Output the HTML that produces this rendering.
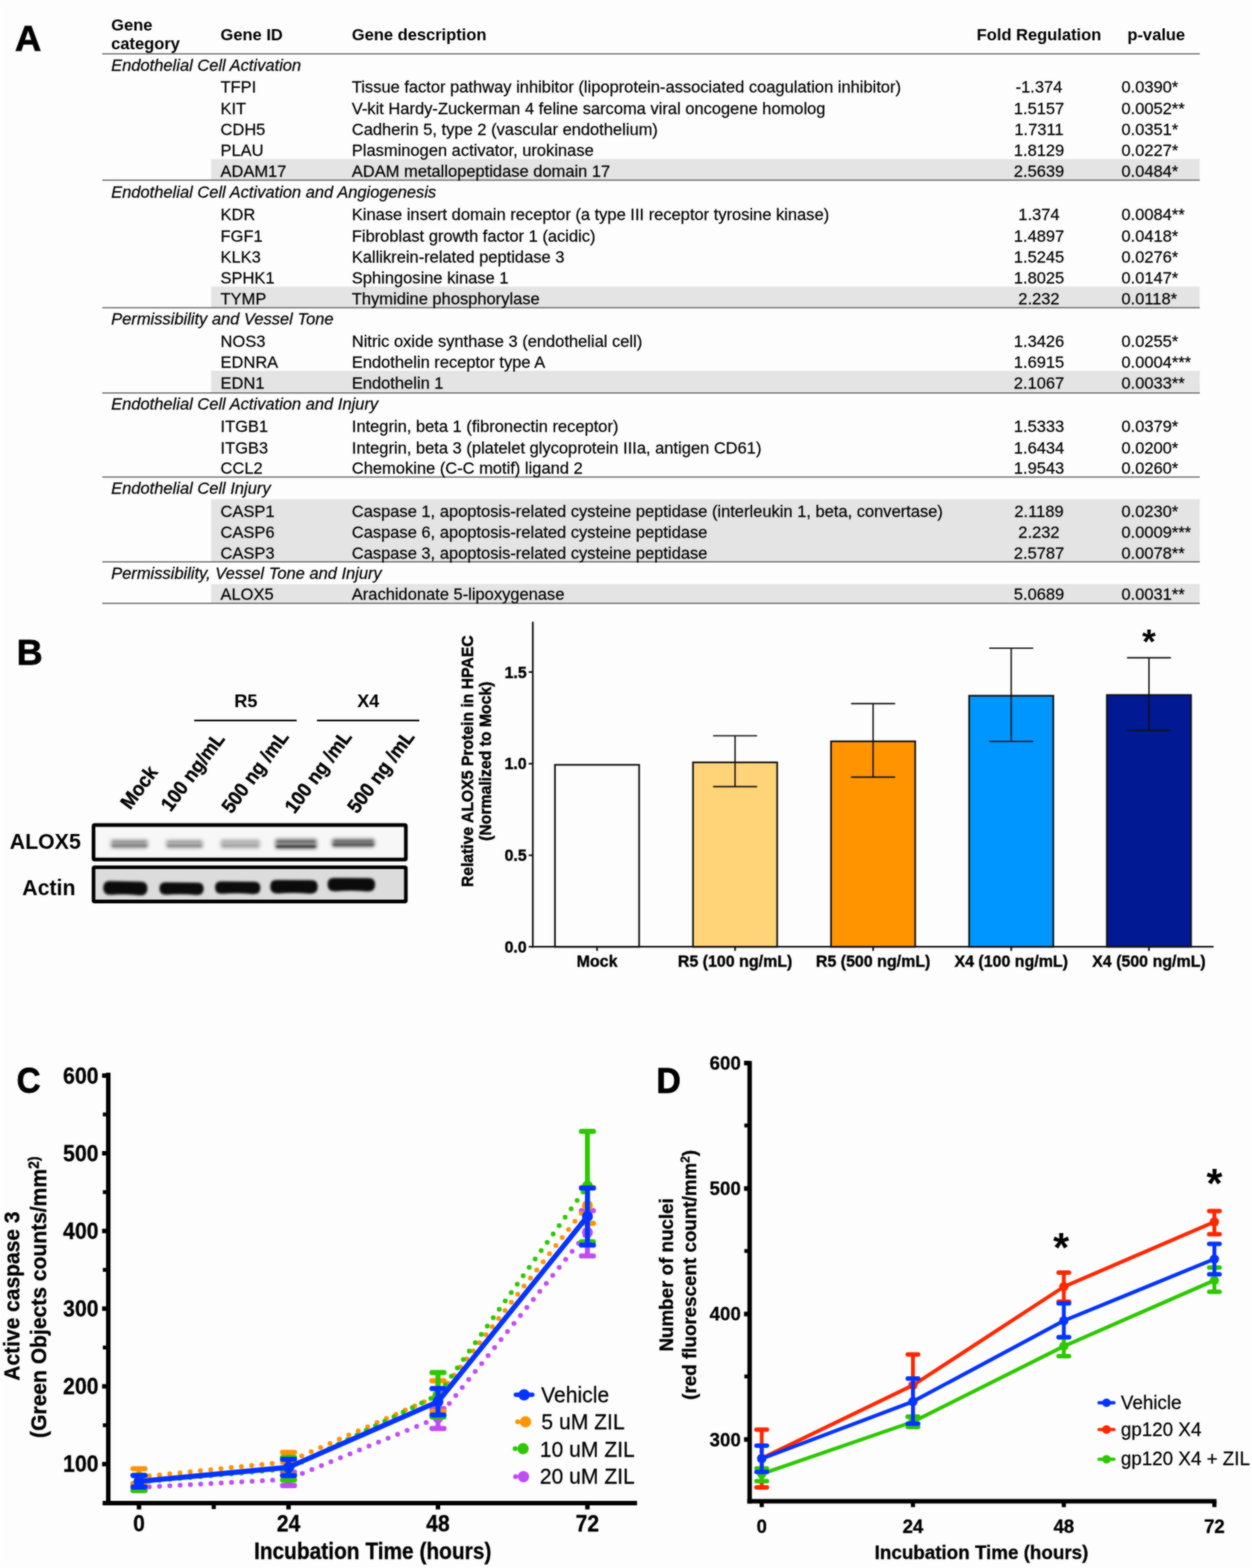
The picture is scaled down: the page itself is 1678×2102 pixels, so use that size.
<!DOCTYPE html>
<html lang="en"><head><meta charset="utf-8"><title>Figure</title>
<style>
html,body{margin:0;padding:0;background:#fdfdfd;}
body{width:1678px;height:2102px;overflow:hidden;}
svg{display:block;font-family:"Liberation Sans",sans-serif;}
</style></head><body>
<svg width="1678" height="2102" viewBox="0 0 1678 2102">
<defs>
<filter id="b1" color-interpolation-filters="sRGB" x="-20%" y="-80%" width="140%" height="260%"><feGaussianBlur stdDeviation="2.6 1.9"/></filter>
<filter id="b2" color-interpolation-filters="sRGB" x="-20%" y="-80%" width="140%" height="260%"><feGaussianBlur stdDeviation="1.7 1.5"/></filter>
<filter id="b3" color-interpolation-filters="sRGB" x="-20%" y="-150%" width="140%" height="400%"><feGaussianBlur stdDeviation="1.6 0.9"/></filter>
<filter id="soft" color-interpolation-filters="sRGB" x="0" y="0" width="100%" height="100%"><feGaussianBlur in="SourceGraphic" stdDeviation="0.85" result="b"/><feComposite in="b" in2="SourceGraphic" operator="arithmetic" k1="0" k2="0.6" k3="0.4" k4="0"/></filter>
</defs>
<g filter="url(#soft)">
<rect width="1678" height="2102" fill="#fdfdfd"/>

<g id="panelA" stroke="#000" stroke-width="0.28">
<rect x="283" y="213.2" width="1325" height="28.3" fill="#e4e4e4" stroke="none"/>
<rect x="283" y="384.2" width="1325" height="28.3" fill="#e4e4e4" stroke="none"/>
<rect x="283" y="497" width="1325" height="29.8" fill="#e4e4e4" stroke="none"/>
<rect x="283" y="669.2" width="1325" height="84.6" fill="#e4e4e4" stroke="none"/>
<rect x="283" y="783" width="1325" height="26" fill="#e4e4e4" stroke="none"/>
<line x1="137" y1="72.3" x2="1608" y2="72.3" stroke="#5a5a5a" stroke-width="1.5"/>
<line x1="137" y1="241.6" x2="1608" y2="241.6" stroke="#5a5a5a" stroke-width="1.5"/>
<line x1="137" y1="412.5" x2="1608" y2="412.5" stroke="#5a5a5a" stroke-width="1.5"/>
<line x1="137" y1="526.8" x2="1608" y2="526.8" stroke="#5a5a5a" stroke-width="1.5"/>
<line x1="137" y1="639.5" x2="1608" y2="639.5" stroke="#5a5a5a" stroke-width="1.5"/>
<line x1="137" y1="753.3" x2="1608" y2="753.3" stroke="#5a5a5a" stroke-width="1.5"/>
<line x1="137" y1="808.7" x2="1608" y2="808.7" stroke="#5a5a5a" stroke-width="1.5"/>
<text x="20" y="67.6" font-size="49" font-weight="bold" stroke="#000" stroke-width="0.9">A</text>
<text x="149" y="41.4" font-size="22.1" font-weight="bold" stroke="none">Gene</text>
<text x="149" y="66" font-size="22.1" font-weight="bold" stroke="none">category</text>
<text x="295.5" y="53.8" font-size="22.1" font-weight="bold" stroke="none">Gene ID</text>
<text x="471.5" y="53.8" font-size="22.1" font-weight="bold" stroke="none">Gene description</text>
<text x="1309" y="53.8" font-size="22.1" font-weight="bold" stroke="none">Fold Regulation</text>
<text x="1511" y="53.8" font-size="22.1" font-weight="bold" stroke="none">p-value</text>
<text x="149" y="95.3" font-size="22.1" font-style="italic">Endothelial Cell Activation</text>
<text x="295.5" y="124.4" font-size="22.1">TFPI</text>
<text x="471.5" y="124.4" font-size="22.1">Tissue factor pathway inhibitor (lipoprotein-associated coagulation inhibitor)</text>
<text x="1392.5" y="124.4" font-size="22.1" text-anchor="middle">-1.374</text>
<text x="1503" y="124.4" font-size="22.1">0.0390*</text>
<text x="295.5" y="152.6" font-size="22.1">KIT</text>
<text x="471.5" y="152.6" font-size="22.1">V-kit Hardy-Zuckerman 4 feline sarcoma viral oncogene homolog</text>
<text x="1392.5" y="152.6" font-size="22.1" text-anchor="middle">1.5157</text>
<text x="1503" y="152.6" font-size="22.1">0.0052**</text>
<text x="295.5" y="180.6" font-size="22.1">CDH5</text>
<text x="471.5" y="180.6" font-size="22.1">Cadherin 5, type 2 (vascular endothelium)</text>
<text x="1392.5" y="180.6" font-size="22.1" text-anchor="middle">1.7311</text>
<text x="1503" y="180.6" font-size="22.1">0.0351*</text>
<text x="295.5" y="208.7" font-size="22.1">PLAU</text>
<text x="471.5" y="208.7" font-size="22.1">Plasminogen activator, urokinase</text>
<text x="1392.5" y="208.7" font-size="22.1" text-anchor="middle">1.8129</text>
<text x="1503" y="208.7" font-size="22.1">0.0227*</text>
<text x="295.5" y="236.8" font-size="22.1">ADAM17</text>
<text x="471.5" y="236.8" font-size="22.1">ADAM metallopeptidase domain 17</text>
<text x="1392.5" y="236.8" font-size="22.1" text-anchor="middle">2.5639</text>
<text x="1503" y="236.8" font-size="22.1">0.0484*</text>
<text x="149" y="264.7" font-size="22.1" font-style="italic">Endothelial Cell Activation and Angiogenesis</text>
<text x="295.5" y="295.4" font-size="22.1">KDR</text>
<text x="471.5" y="295.4" font-size="22.1">Kinase insert domain receptor (a type III receptor tyrosine kinase)</text>
<text x="1392.5" y="295.4" font-size="22.1" text-anchor="middle">1.374</text>
<text x="1503" y="295.4" font-size="22.1">0.0084**</text>
<text x="295.5" y="323.6" font-size="22.1">FGF1</text>
<text x="471.5" y="323.6" font-size="22.1">Fibroblast growth factor 1 (acidic)</text>
<text x="1392.5" y="323.6" font-size="22.1" text-anchor="middle">1.4897</text>
<text x="1503" y="323.6" font-size="22.1">0.0418*</text>
<text x="295.5" y="351.7" font-size="22.1">KLK3</text>
<text x="471.5" y="351.7" font-size="22.1">Kallikrein-related peptidase 3</text>
<text x="1392.5" y="351.7" font-size="22.1" text-anchor="middle">1.5245</text>
<text x="1503" y="351.7" font-size="22.1">0.0276*</text>
<text x="295.5" y="379.7" font-size="22.1">SPHK1</text>
<text x="471.5" y="379.7" font-size="22.1">Sphingosine kinase 1</text>
<text x="1392.5" y="379.7" font-size="22.1" text-anchor="middle">1.8025</text>
<text x="1503" y="379.7" font-size="22.1">0.0147*</text>
<text x="295.5" y="407.8" font-size="22.1">TYMP</text>
<text x="471.5" y="407.8" font-size="22.1">Thymidine phosphorylase</text>
<text x="1392.5" y="407.8" font-size="22.1" text-anchor="middle">2.232</text>
<text x="1503" y="407.8" font-size="22.1">0.0118*</text>
<text x="149" y="435.2" font-size="22.1" font-style="italic">Permissibility and Vessel Tone</text>
<text x="295.5" y="464.5" font-size="22.1">NOS3</text>
<text x="471.5" y="464.5" font-size="22.1">Nitric oxide synthase 3 (endothelial cell)</text>
<text x="1392.5" y="464.5" font-size="22.1" text-anchor="middle">1.3426</text>
<text x="1503" y="464.5" font-size="22.1">0.0255*</text>
<text x="295.5" y="492.6" font-size="22.1">EDNRA</text>
<text x="471.5" y="492.6" font-size="22.1">Endothelin receptor type A</text>
<text x="1392.5" y="492.6" font-size="22.1" text-anchor="middle">1.6915</text>
<text x="1503" y="492.6" font-size="22.1">0.0004***</text>
<text x="295.5" y="520.7" font-size="22.1">EDN1</text>
<text x="471.5" y="520.7" font-size="22.1">Endothelin 1</text>
<text x="1392.5" y="520.7" font-size="22.1" text-anchor="middle">2.1067</text>
<text x="1503" y="520.7" font-size="22.1">0.0033**</text>
<text x="149" y="549.4" font-size="22.1" font-style="italic">Endothelial Cell Activation and Injury</text>
<text x="295.5" y="579.4" font-size="22.1">ITGB1</text>
<text x="471.5" y="579.4" font-size="22.1">Integrin, beta 1 (fibronectin receptor)</text>
<text x="1392.5" y="579.4" font-size="22.1" text-anchor="middle">1.5333</text>
<text x="1503" y="579.4" font-size="22.1">0.0379*</text>
<text x="295.5" y="607.5" font-size="22.1">ITGB3</text>
<text x="471.5" y="607.5" font-size="22.1">Integrin, beta 3 (platelet glycoprotein IIIa, antigen CD61)</text>
<text x="1392.5" y="607.5" font-size="22.1" text-anchor="middle">1.6434</text>
<text x="1503" y="607.5" font-size="22.1">0.0200*</text>
<text x="295.5" y="635.4" font-size="22.1">CCL2</text>
<text x="471.5" y="635.4" font-size="22.1">Chemokine (C-C motif) ligand 2</text>
<text x="1392.5" y="635.4" font-size="22.1" text-anchor="middle">1.9543</text>
<text x="1503" y="635.4" font-size="22.1">0.0260*</text>
<text x="149" y="662.2" font-size="22.1" font-style="italic">Endothelial Cell Injury</text>
<text x="295.5" y="692.5" font-size="22.1">CASP1</text>
<text x="471.5" y="692.5" font-size="22.1">Caspase 1, apoptosis-related cysteine peptidase (interleukin 1, beta, convertase)</text>
<text x="1392.5" y="692.5" font-size="22.1" text-anchor="middle">2.1189</text>
<text x="1503" y="692.5" font-size="22.1">0.0230*</text>
<text x="295.5" y="720.6" font-size="22.1">CASP6</text>
<text x="471.5" y="720.6" font-size="22.1">Caspase 6, apoptosis-related cysteine peptidase</text>
<text x="1392.5" y="720.6" font-size="22.1" text-anchor="middle">2.232</text>
<text x="1503" y="720.6" font-size="22.1">0.0009***</text>
<text x="295.5" y="748.7" font-size="22.1">CASP3</text>
<text x="471.5" y="748.7" font-size="22.1">Caspase 3, apoptosis-related cysteine peptidase</text>
<text x="1392.5" y="748.7" font-size="22.1" text-anchor="middle">2.5787</text>
<text x="1503" y="748.7" font-size="22.1">0.0078**</text>
<text x="149" y="776.1" font-size="22.1" font-style="italic">Permissibility, Vessel Tone and Injury</text>
<text x="295.5" y="803.7" font-size="22.1">ALOX5</text>
<text x="471.5" y="803.7" font-size="22.1">Arachidonate 5-lipoxygenase</text>
<text x="1392.5" y="803.7" font-size="22.1" text-anchor="middle">5.0689</text>
<text x="1503" y="803.7" font-size="22.1">0.0031**</text>
</g>
<g id="panelB">
<text x="22.6" y="890.8" font-size="48" font-weight="bold" stroke="#000" stroke-width="0.9">B</text>
<text x="329.5" y="948.3" font-size="24.3" font-weight="bold" text-anchor="middle">R5</text>
<text x="493.5" y="948.3" font-size="24.3" font-weight="bold" text-anchor="middle">X4</text>
<line x1="260.3" y1="965.8" x2="397.6" y2="965.8" stroke="#000" stroke-width="2.2"/>
<line x1="424.8" y1="965.8" x2="562" y2="965.8" stroke="#000" stroke-width="2.2"/>
<text transform="translate(174.5 1086.5) rotate(-53.3) scale(0.93 1)" font-size="26.8" font-weight="bold" stroke="#000" stroke-width="0.5">Mock</text>
<text transform="translate(228.8 1089.3) rotate(-53.3) scale(0.93 1)" font-size="26.8" font-weight="bold" stroke="#000" stroke-width="0.5">100 ng/mL</text>
<text transform="translate(310.3 1092) rotate(-53.3) scale(0.93 1)" font-size="26.8" font-weight="bold" stroke="#000" stroke-width="0.5">500 ng /mL</text>
<text transform="translate(394.8 1092) rotate(-53.3) scale(0.93 1)" font-size="26.8" font-weight="bold" stroke="#000" stroke-width="0.5">100 ng /mL</text>
<text transform="translate(478.8 1092) rotate(-53.3) scale(0.93 1)" font-size="26.8" font-weight="bold" stroke="#000" stroke-width="0.5">500 ng /mL</text>
<text x="13" y="1137.8" font-size="28.6" font-weight="bold">ALOX5</text>
<text x="29.8" y="1199.7" font-size="28.6" font-weight="bold">Actin</text>
<rect x="125.35" y="1105.95" width="418.6" height="46.3" fill="#f7f7f7" stroke="#000" stroke-width="4.9" rx="1.5"/>
<rect x="125.35" y="1162.65" width="418.6" height="45.9" fill="#dcdcdc" stroke="#000" stroke-width="4.9" rx="1.5"/>
<rect x="148.2" y="1125.1" width="50.5" height="12.6" rx="4" fill="#000" opacity="0.3" filter="url(#b1)"/>
<g filter="url(#b3)"><rect x="150.7" y="1126.9" width="45.5" height="2.8" rx="1.4" fill="#000" opacity="0.14"/><rect x="149.7" y="1132.0" width="47.5" height="3.6" rx="1.8" fill="#000" opacity="0.26"/></g>
<rect x="222.3" y="1125.4" width="50.0" height="12.3" rx="4" fill="#000" opacity="0.26" filter="url(#b1)"/>
<g filter="url(#b3)"><rect x="224.8" y="1126.9" width="45.0" height="2.8" rx="1.4" fill="#000" opacity="0.12"/><rect x="223.8" y="1132.0" width="47.0" height="3.6" rx="1.8" fill="#000" opacity="0.22"/></g>
<rect x="295.2" y="1124.7" width="53.6" height="13.2" rx="4" fill="#000" opacity="0.22" filter="url(#b1)"/>
<g filter="url(#b3)"><rect x="297.7" y="1126.8" width="48.6" height="2.8" rx="1.4" fill="#000" opacity="0.08"/><rect x="296.7" y="1131.8" width="50.6" height="3.6" rx="1.8" fill="#000" opacity="0.14"/></g>
<rect x="368.5" y="1123.9" width="56.5" height="14.8" rx="4" fill="#000" opacity="0.4" filter="url(#b1)"/>
<g filter="url(#b3)"><rect x="371.0" y="1126.8" width="51.5" height="2.8" rx="1.4" fill="#000" opacity="0.3"/><rect x="370.0" y="1133.0" width="53.5" height="3.6" rx="1.8" fill="#000" opacity="0.56"/></g>
<rect x="444.5" y="1123.7" width="58.1" height="12.6" rx="4" fill="#000" opacity="0.4" filter="url(#b1)"/>
<g filter="url(#b3)"><rect x="447.0" y="1126.2" width="53.1" height="2.8" rx="1.4" fill="#000" opacity="0.3"/><rect x="446.0" y="1130.6" width="55.1" height="3.6" rx="1.8" fill="#000" opacity="0.42"/></g>
<path d="M147.3 1181.4L188.7 1181.4Q197.6 1181.4 197.6 1189.9L197.6 1191.4Q197.6 1200.1 186.9 1200.1Q168.0 1197.8 149.1 1200.1Q138.4 1200.1 138.4 1191.4L138.4 1189.9Q138.4 1181.4 147.3 1181.4Z" fill="#0b0b0b" filter="url(#b2)" transform="rotate(1.2 168.0 1190.7)"/>
<path d="M221.7 1183.0L264.9 1183.0Q272.9 1183.0 272.9 1190.6L272.9 1192.0Q272.9 1199.8 263.3 1199.8Q243.3 1197.7 223.3 1199.8Q213.7 1199.8 213.7 1192.0L213.7 1190.6Q213.7 1183.0 221.7 1183.0Z" fill="#0b0b0b" filter="url(#b2)" transform="rotate(0.6 243.3 1191.3)"/>
<path d="M296.4 1181.7L340.8 1181.7Q348.9 1181.7 348.9 1189.3L348.9 1190.8Q348.9 1198.6 339.2 1198.6Q318.6 1196.5 298.0 1198.6Q288.3 1198.6 288.3 1190.8L288.3 1189.3Q288.3 1181.7 296.4 1181.7Z" fill="#0b0b0b" filter="url(#b2)" transform="rotate(0.6 318.6 1190.0)"/>
<path d="M370.8 1179.8L417.2 1179.8Q425.8 1179.8 425.8 1188.0L425.8 1189.6Q425.8 1198.0 415.4 1198.0Q394.0 1195.8 372.6 1198.0Q362.2 1198.0 362.2 1189.6L362.2 1188.0Q362.2 1179.8 370.8 1179.8Z" fill="#0b0b0b" filter="url(#b2)" transform="rotate(0.3 394.0 1188.8)"/>
<path d="M447.7 1177.0L494.1 1177.0Q502.7 1177.0 502.7 1185.2L502.7 1186.7Q502.7 1195.1 492.4 1195.1Q470.9 1192.9 449.4 1195.1Q439.1 1195.1 439.1 1186.7L439.1 1185.2Q439.1 1177.0 447.7 1177.0Z" fill="#0b0b0b" filter="url(#b2)" transform="rotate(0.3 470.9 1185.9)"/>
</g>
<g id="barchart">
<rect x="743.8" y="1025.3" width="112.8" height="243.9" fill="#fdfdfd" stroke="#111" stroke-width="2.3"/>
<rect x="928.8" y="1022.0" width="112.8" height="247.2" fill="#FFD479" stroke="#111" stroke-width="2.3"/>
<rect x="1113.8" y="993.8" width="112.8" height="275.4" fill="#FF9300" stroke="#111" stroke-width="2.3"/>
<rect x="1298.9" y="932.7" width="112.8" height="336.5" fill="#0096FF" stroke="#111" stroke-width="2.3"/>
<rect x="1483.5" y="931.7" width="112.8" height="337.5" fill="#011993" stroke="#111" stroke-width="2.3"/>
<line x1="985.2" y1="1054.5" x2="985.2" y2="986.4" stroke="#111" stroke-width="1.9"/>
<line x1="955.7" y1="1054.5" x2="1014.7" y2="1054.5" stroke="#111" stroke-width="1.9"/>
<line x1="955.7" y1="986.4" x2="1014.7" y2="986.4" stroke="#111" stroke-width="1.9"/>
<line x1="1170.2" y1="1041.8" x2="1170.2" y2="943.3" stroke="#111" stroke-width="1.9"/>
<line x1="1140.7" y1="1041.8" x2="1199.7" y2="1041.8" stroke="#111" stroke-width="1.9"/>
<line x1="1140.7" y1="943.3" x2="1199.7" y2="943.3" stroke="#111" stroke-width="1.9"/>
<line x1="1355.3" y1="993.9" x2="1355.3" y2="868.9" stroke="#111" stroke-width="1.9"/>
<line x1="1325.8" y1="993.9" x2="1384.8" y2="993.9" stroke="#111" stroke-width="1.9"/>
<line x1="1325.8" y1="868.9" x2="1384.8" y2="868.9" stroke="#111" stroke-width="1.9"/>
<line x1="1539.9" y1="979.1" x2="1539.9" y2="881.8" stroke="#111" stroke-width="1.9"/>
<line x1="1510.4" y1="979.1" x2="1569.4" y2="979.1" stroke="#111" stroke-width="1.9"/>
<line x1="1510.4" y1="881.8" x2="1569.4" y2="881.8" stroke="#111" stroke-width="1.9"/>
<line x1="714.1" y1="833.5" x2="714.1" y2="1270.3500000000001" stroke="#111" stroke-width="2.3"/>
<line x1="712.95" y1="1269.2" x2="1626.5" y2="1269.2" stroke="#111" stroke-width="2.3"/>
<line x1="708.6" y1="1269.2" x2="714.1" y2="1269.2" stroke="#111" stroke-width="2.3"/>
<text x="705.9" y="1276.8" font-size="21.4" font-weight="bold" text-anchor="end" stroke="#000" stroke-width="0.45">0.0</text>
<line x1="708.6" y1="1146.6" x2="714.1" y2="1146.6" stroke="#111" stroke-width="2.3"/>
<text x="705.9" y="1154.2" font-size="21.4" font-weight="bold" text-anchor="end" stroke="#000" stroke-width="0.45">0.5</text>
<line x1="708.6" y1="1023.8" x2="714.1" y2="1023.8" stroke="#111" stroke-width="2.3"/>
<text x="705.9" y="1031.4" font-size="21.4" font-weight="bold" text-anchor="end" stroke="#000" stroke-width="0.45">1.0</text>
<line x1="708.6" y1="900.9" x2="714.1" y2="900.9" stroke="#111" stroke-width="2.3"/>
<text x="705.9" y="908.5" font-size="21.4" font-weight="bold" text-anchor="end" stroke="#000" stroke-width="0.45">1.5</text>
<line x1="800.2" y1="1269.2" x2="800.2" y2="1274.7" stroke="#111" stroke-width="2.3"/>
<text x="800.2" y="1296.0" font-size="21.4" font-weight="bold" text-anchor="middle" stroke="#000" stroke-width="0.45">Mock</text>
<line x1="985.2" y1="1269.2" x2="985.2" y2="1274.7" stroke="#111" stroke-width="2.3"/>
<text x="985.2" y="1296.0" font-size="21.4" font-weight="bold" text-anchor="middle" stroke="#000" stroke-width="0.45">R5 (100 ng/mL)</text>
<line x1="1170.2" y1="1269.2" x2="1170.2" y2="1274.7" stroke="#111" stroke-width="2.3"/>
<text x="1170.2" y="1296.0" font-size="21.4" font-weight="bold" text-anchor="middle" stroke="#000" stroke-width="0.45">R5 (500 ng/mL)</text>
<line x1="1355.3" y1="1269.2" x2="1355.3" y2="1274.7" stroke="#111" stroke-width="2.3"/>
<text x="1355.3" y="1296.0" font-size="21.4" font-weight="bold" text-anchor="middle" stroke="#000" stroke-width="0.45">X4 (100 ng/mL)</text>
<line x1="1539.9" y1="1269.2" x2="1539.9" y2="1274.7" stroke="#111" stroke-width="2.3"/>
<text x="1539.9" y="1296.0" font-size="21.4" font-weight="bold" text-anchor="middle" stroke="#000" stroke-width="0.45">X4 (500 ng/mL)</text>
<text transform="translate(633.9 1020.5) rotate(-90) scale(0.934 1)" font-size="22.6" font-weight="bold" text-anchor="middle" stroke="#000" stroke-width="0.6">Relative ALOX5 Protein in HPAEC</text>
<text transform="translate(658.2 1020.5) rotate(-90) scale(0.934 1)" font-size="22.6" font-weight="bold" text-anchor="middle" stroke="#000" stroke-width="0.6">(Normalized to Mock)</text>
<text x="1539.8" y="875.9" font-size="47" font-weight="bold" text-anchor="middle">*</text>
</g>
<g id="panelC">
<text transform="translate(22.2 1465.2) scale(0.91 1)" font-size="49.01" font-weight="bold" stroke="#000" stroke-width="0.9">C</text>
<line x1="145.1" y1="1438.1" x2="145.1" y2="2018.0" stroke="#000" stroke-width="6"/>
<line x1="137.5" y1="2015.0" x2="853.8" y2="2015.0" stroke="#000" stroke-width="6"/>
<line x1="136.8" y1="1962.7" x2="145.1" y2="1962.7" stroke="#000" stroke-width="6"/>
<text transform="translate(132 1973.3) scale(0.915 1)" font-size="31.04" font-weight="bold" text-anchor="end" stroke="#000" stroke-width="0.4">100</text>
<line x1="136.8" y1="1858.5" x2="145.1" y2="1858.5" stroke="#000" stroke-width="6"/>
<text transform="translate(132 1869.1) scale(0.915 1)" font-size="31.04" font-weight="bold" text-anchor="end" stroke="#000" stroke-width="0.4">200</text>
<line x1="136.8" y1="1754.3" x2="145.1" y2="1754.3" stroke="#000" stroke-width="6"/>
<text transform="translate(132 1764.9) scale(0.915 1)" font-size="31.04" font-weight="bold" text-anchor="end" stroke="#000" stroke-width="0.4">300</text>
<line x1="136.8" y1="1650.2" x2="145.1" y2="1650.2" stroke="#000" stroke-width="6"/>
<text transform="translate(132 1660.8) scale(0.915 1)" font-size="31.04" font-weight="bold" text-anchor="end" stroke="#000" stroke-width="0.4">400</text>
<line x1="136.8" y1="1546.0" x2="145.1" y2="1546.0" stroke="#000" stroke-width="6"/>
<text transform="translate(132 1556.6) scale(0.915 1)" font-size="31.04" font-weight="bold" text-anchor="end" stroke="#000" stroke-width="0.4">500</text>
<line x1="136.8" y1="1441.9" x2="145.1" y2="1441.9" stroke="#000" stroke-width="6"/>
<text transform="translate(132 1452.5) scale(0.915 1)" font-size="31.04" font-weight="bold" text-anchor="end" stroke="#000" stroke-width="0.4">600</text>
<line x1="137.8" y1="1910.6" x2="145.1" y2="1910.6" stroke="#000" stroke-width="5.2"/>
<line x1="137.8" y1="1806.4" x2="145.1" y2="1806.4" stroke="#000" stroke-width="5.2"/>
<line x1="137.8" y1="1702.3" x2="145.1" y2="1702.3" stroke="#000" stroke-width="5.2"/>
<line x1="137.8" y1="1598.1" x2="145.1" y2="1598.1" stroke="#000" stroke-width="5.2"/>
<line x1="137.8" y1="1494.0" x2="145.1" y2="1494.0" stroke="#000" stroke-width="5.2"/>
<line x1="186.3" y1="2015.0" x2="186.3" y2="2023.5" stroke="#000" stroke-width="6"/>
<text transform="translate(186.3 2052.6) scale(0.915 1)" font-size="30.82" font-weight="bold" text-anchor="middle" stroke="#000" stroke-width="0.4">0</text>
<line x1="386.7" y1="2015.0" x2="386.7" y2="2023.5" stroke="#000" stroke-width="6"/>
<text transform="translate(386.7 2052.6) scale(0.915 1)" font-size="30.82" font-weight="bold" text-anchor="middle" stroke="#000" stroke-width="0.4">24</text>
<line x1="587" y1="2015.0" x2="587" y2="2023.5" stroke="#000" stroke-width="6"/>
<text transform="translate(587 2052.6) scale(0.915 1)" font-size="30.82" font-weight="bold" text-anchor="middle" stroke="#000" stroke-width="0.4">48</text>
<line x1="787.3" y1="2015.0" x2="787.3" y2="2023.5" stroke="#000" stroke-width="6"/>
<text transform="translate(787.3 2052.6) scale(0.915 1)" font-size="30.82" font-weight="bold" text-anchor="middle" stroke="#000" stroke-width="0.4">72</text>
<line x1="286.5" y1="2015.0" x2="286.5" y2="2023.0" stroke="#000" stroke-width="5.6"/>
<text transform="translate(499.5 2089.6) scale(0.92 1)" font-size="30.43" font-weight="bold" text-anchor="middle" stroke="#000" stroke-width="0.4">Incubation Time (hours)</text>
<text transform="translate(26.2 1737.5) rotate(-90) scale(0.932 1)" font-size="30.2" font-weight="bold" text-anchor="middle" stroke="#000" stroke-width="0.4">Active caspase 3</text>
<text transform="translate(62 1739) rotate(-90) scale(0.935 1)" font-size="30.2" font-weight="bold" text-anchor="middle" stroke="#000" stroke-width="0.4">(Green Objects counts/mm<tspan font-size="20" dy="-10.5">2)</tspan></text>
<polyline points="186.3,1994 386.7,1983 587,1900.5 787.3,1652" fill="none" stroke="#BF4CF2" stroke-width="6.5" stroke-linecap="round" stroke-linejoin="round" stroke-dasharray="0 13.8"/>
<path d="M186.3 1989V1998" fill="none" stroke="#BF4CF2" stroke-width="6.6"/>
<path d="M178.2 1989H194.4M178.2 1998H194.4" fill="none" stroke="#BF4CF2" stroke-width="6.8" stroke-linecap="round"/>
<circle cx="186.3" cy="1994" r="7.3" fill="#BF4CF2"/>
<path d="M386.7 1973.3V1991.5" fill="none" stroke="#BF4CF2" stroke-width="6.6"/>
<path d="M378.6 1973.3H394.8M378.6 1991.5H394.8" fill="none" stroke="#BF4CF2" stroke-width="6.8" stroke-linecap="round"/>
<circle cx="386.7" cy="1983" r="7.3" fill="#BF4CF2"/>
<path d="M587 1888.5V1915" fill="none" stroke="#BF4CF2" stroke-width="6.6"/>
<path d="M578.9 1888.5H595.1M578.9 1915H595.1" fill="none" stroke="#BF4CF2" stroke-width="6.8" stroke-linecap="round"/>
<circle cx="587" cy="1900.5" r="7.3" fill="#BF4CF2"/>
<path d="M787.3 1623V1683.7" fill="none" stroke="#BF4CF2" stroke-width="6.6"/>
<path d="M779.2 1623H795.4M779.2 1683.7H795.4" fill="none" stroke="#BF4CF2" stroke-width="6.8" stroke-linecap="round"/>
<circle cx="787.3" cy="1652" r="7.3" fill="#BF4CF2"/>
<polyline points="186.3,1980 386.7,1959.5 587,1871 787.3,1616" fill="none" stroke="#FF9300" stroke-width="6.5" stroke-linecap="round" stroke-linejoin="round" stroke-dasharray="0 13.8"/>
<path d="M186.3 1968.8V1990" fill="none" stroke="#FF9300" stroke-width="6.6"/>
<path d="M178.2 1968.8H194.4M178.2 1990H194.4" fill="none" stroke="#FF9300" stroke-width="6.8" stroke-linecap="round"/>
<circle cx="186.3" cy="1980" r="7.3" fill="#FF9300"/>
<path d="M386.7 1946.8V1978" fill="none" stroke="#FF9300" stroke-width="6.6"/>
<path d="M378.6 1946.8H394.8M378.6 1978H394.8" fill="none" stroke="#FF9300" stroke-width="6.8" stroke-linecap="round"/>
<circle cx="386.7" cy="1959.5" r="7.3" fill="#FF9300"/>
<path d="M587 1851V1892" fill="none" stroke="#FF9300" stroke-width="6.6"/>
<path d="M578.9 1851H595.1M578.9 1892H595.1" fill="none" stroke="#FF9300" stroke-width="6.8" stroke-linecap="round"/>
<circle cx="587" cy="1871" r="7.3" fill="#FF9300"/>
<path d="M787.3 1592V1640" fill="none" stroke="#FF9300" stroke-width="6.6"/>
<path d="M779.2 1592H795.4M779.2 1640H795.4" fill="none" stroke="#FF9300" stroke-width="6.8" stroke-linecap="round"/>
<circle cx="787.3" cy="1616" r="7.3" fill="#FF9300"/>
<polyline points="186.3,1987 386.7,1969 587,1870 787.3,1590" fill="none" stroke="#2CC800" stroke-width="6.5" stroke-linecap="round" stroke-linejoin="round" stroke-dasharray="0 13.8"/>
<path d="M186.3 1978V1998" fill="none" stroke="#2CC800" stroke-width="6.6"/>
<path d="M178.2 1978H194.4M178.2 1998H194.4" fill="none" stroke="#2CC800" stroke-width="6.8" stroke-linecap="round"/>
<circle cx="186.3" cy="1987" r="7.3" fill="#2CC800"/>
<path d="M386.7 1953.6V1984" fill="none" stroke="#2CC800" stroke-width="6.6"/>
<path d="M378.6 1953.6H394.8M378.6 1984H394.8" fill="none" stroke="#2CC800" stroke-width="6.8" stroke-linecap="round"/>
<circle cx="386.7" cy="1969" r="7.3" fill="#2CC800"/>
<path d="M587 1840V1899.5" fill="none" stroke="#2CC800" stroke-width="6.6"/>
<path d="M578.9 1840H595.1M578.9 1899.5H595.1" fill="none" stroke="#2CC800" stroke-width="6.8" stroke-linecap="round"/>
<circle cx="587" cy="1870" r="7.3" fill="#2CC800"/>
<path d="M787.3 1516.7V1664.7" fill="none" stroke="#2CC800" stroke-width="6.6"/>
<path d="M779.2 1516.7H795.4M779.2 1664.7H795.4" fill="none" stroke="#2CC800" stroke-width="6.8" stroke-linecap="round"/>
<circle cx="787.3" cy="1590" r="7.3" fill="#2CC800"/>
<polyline points="186.3,1985.8 386.7,1967 587,1879 787.3,1630.7" fill="none" stroke="#0433FF" stroke-width="6.8" stroke-linecap="round" stroke-linejoin="round"/>
<path d="M186.3 1977.8V1993.5" fill="none" stroke="#0433FF" stroke-width="6.6"/>
<path d="M178.2 1977.8H194.4M178.2 1993.5H194.4" fill="none" stroke="#0433FF" stroke-width="6.8" stroke-linecap="round"/>
<circle cx="186.3" cy="1985.8" r="7.3" fill="#0433FF"/>
<path d="M386.7 1956.3V1978.1" fill="none" stroke="#0433FF" stroke-width="6.6"/>
<path d="M378.6 1956.3H394.8M378.6 1978.1H394.8" fill="none" stroke="#0433FF" stroke-width="6.8" stroke-linecap="round"/>
<circle cx="386.7" cy="1967" r="7.3" fill="#0433FF"/>
<path d="M587 1861.4V1896.8" fill="none" stroke="#0433FF" stroke-width="6.6"/>
<path d="M578.9 1861.4H595.1M578.9 1896.8H595.1" fill="none" stroke="#0433FF" stroke-width="6.8" stroke-linecap="round"/>
<circle cx="587" cy="1879" r="7.3" fill="#0433FF"/>
<path d="M787.3 1592.7V1669.2" fill="none" stroke="#0433FF" stroke-width="6.6"/>
<path d="M779.2 1592.7H795.4M779.2 1669.2H795.4" fill="none" stroke="#0433FF" stroke-width="6.8" stroke-linecap="round"/>
<circle cx="787.3" cy="1630.7" r="7.3" fill="#0433FF"/>
<line x1="691.4" y1="1869.8" x2="713.4" y2="1869.8" stroke="#0433FF" stroke-width="6" stroke-linecap="round"/>
<circle cx="702.4" cy="1869.8" r="7.6" fill="#0433FF"/>
<text transform="translate(725.3 1879.8) scale(0.985 1)" font-size="28.73" stroke="#000" stroke-width="0.3">Vehicle</text>
<circle cx="693.8" cy="1906" r="3.3" fill="#FF9300"/>
<circle cx="704.3" cy="1906" r="7.6" fill="#FF9300"/>
<text transform="translate(725.6 1916.4) scale(0.985 1)" font-size="28.73" stroke="#000" stroke-width="0.3">5 uM ZIL</text>
<circle cx="690.5" cy="1942" r="3.3" fill="#2CC800"/>
<circle cx="701" cy="1942" r="7.6" fill="#2CC800"/>
<text transform="translate(723.5 1952.8) scale(0.985 1)" font-size="28.73" stroke="#000" stroke-width="0.3">10 uM ZIL</text>
<circle cx="691.1" cy="1979.6" r="3.3" fill="#BF4CF2"/>
<circle cx="701.6" cy="1979.6" r="7.6" fill="#BF4CF2"/>
<text transform="translate(723.5 1989.4) scale(0.985 1)" font-size="28.73" stroke="#000" stroke-width="0.3">20 uM ZIL</text>
</g>
<g id="panelD">
<text transform="translate(879.7 1464.9) scale(0.93 1)" font-size="48.82" font-weight="bold" stroke="#000" stroke-width="0.9">D</text>
<line x1="1004.7" y1="1422.3" x2="1004.7" y2="2015.4" stroke="#000" stroke-width="6"/>
<line x1="1001.6" y1="2012.4" x2="1630.4" y2="2012.4" stroke="#000" stroke-width="6"/>
<line x1="997.2" y1="1929.7" x2="1004.7" y2="1929.7" stroke="#000" stroke-width="6.2"/>
<text transform="translate(992.8 1938.5) scale(0.955 1)" font-size="26.18" font-weight="bold" text-anchor="end" stroke="#000" stroke-width="0.4">300</text>
<line x1="997.2" y1="1761.5" x2="1004.7" y2="1761.5" stroke="#000" stroke-width="6.2"/>
<text transform="translate(992.8 1770.3) scale(0.955 1)" font-size="26.18" font-weight="bold" text-anchor="end" stroke="#000" stroke-width="0.4">400</text>
<line x1="997.2" y1="1593.3" x2="1004.7" y2="1593.3" stroke="#000" stroke-width="6.2"/>
<text transform="translate(992.8 1602.1) scale(0.955 1)" font-size="26.18" font-weight="bold" text-anchor="end" stroke="#000" stroke-width="0.4">500</text>
<line x1="997.2" y1="1425.1" x2="1004.7" y2="1425.1" stroke="#000" stroke-width="6.2"/>
<text transform="translate(992.8 1433.9) scale(0.955 1)" font-size="26.18" font-weight="bold" text-anchor="end" stroke="#000" stroke-width="0.4">600</text>
<line x1="997.6" y1="1845.2" x2="1004.7" y2="1845.2" stroke="#000" stroke-width="5.2"/>
<line x1="997.6" y1="1677.0" x2="1004.7" y2="1677.0" stroke="#000" stroke-width="5.2"/>
<line x1="997.6" y1="1508.8" x2="1004.7" y2="1508.8" stroke="#000" stroke-width="5.2"/>
<line x1="1020.9" y1="2012.4" x2="1020.9" y2="2020.4" stroke="#000" stroke-width="5.6"/>
<text transform="translate(1020.9 2054.6) scale(0.955 1)" font-size="26.18" font-weight="bold" text-anchor="middle" stroke="#000" stroke-width="0.4">0</text>
<line x1="1223.6" y1="2012.4" x2="1223.6" y2="2020.4" stroke="#000" stroke-width="5.6"/>
<text transform="translate(1223.6 2054.6) scale(0.955 1)" font-size="26.18" font-weight="bold" text-anchor="middle" stroke="#000" stroke-width="0.4">24</text>
<line x1="1425.8" y1="2012.4" x2="1425.8" y2="2020.4" stroke="#000" stroke-width="5.6"/>
<text transform="translate(1425.8 2054.6) scale(0.955 1)" font-size="26.18" font-weight="bold" text-anchor="middle" stroke="#000" stroke-width="0.4">48</text>
<line x1="1627.6" y1="2012.4" x2="1627.6" y2="2020.4" stroke="#000" stroke-width="5.6"/>
<text transform="translate(1627.6 2054.6) scale(0.955 1)" font-size="26.18" font-weight="bold" text-anchor="middle" stroke="#000" stroke-width="0.4">72</text>
<text transform="translate(1315.5 2089.6) scale(0.955 1)" font-size="26.39" font-weight="bold" text-anchor="middle" stroke="#000" stroke-width="0.4">Incubation Time (hours)</text>
<text transform="translate(902.4 1709) rotate(-90) scale(0.962 1)" font-size="26.2" font-weight="bold" text-anchor="middle" stroke="#000" stroke-width="0.4">Number of nuclei</text>
<text transform="translate(933 1709) rotate(-90) scale(0.962 1)" font-size="26.2" font-weight="bold" text-anchor="middle" stroke="#000" stroke-width="0.4">(red fluorescent count/mm<tspan font-size="16.5" dy="-9.5">2</tspan><tspan dy="9.5">)</tspan></text>
<polyline points="1020.9,1955 1223.6,1857 1425.8,1725 1627.6,1638" fill="none" stroke="#FF2600" stroke-width="5" stroke-linecap="round" stroke-linejoin="round"/>
<path d="M1020.9 1916.4V1994" fill="none" stroke="#FF2600" stroke-width="5.2"/>
<path d="M1013.9 1916.4H1027.9M1013.9 1994H1027.9" fill="none" stroke="#FF2600" stroke-width="6" stroke-linecap="round"/>
<circle cx="1020.9" cy="1955" r="6.2" fill="#FF2600"/>
<path d="M1223.6 1815.7V1899.3" fill="none" stroke="#FF2600" stroke-width="5.2"/>
<path d="M1216.6 1815.7H1230.6M1216.6 1899.3H1230.6" fill="none" stroke="#FF2600" stroke-width="6" stroke-linecap="round"/>
<circle cx="1223.6" cy="1857" r="6.2" fill="#FF2600"/>
<path d="M1425.8 1706V1745" fill="none" stroke="#FF2600" stroke-width="5.2"/>
<path d="M1418.8 1706H1432.8M1418.8 1745H1432.8" fill="none" stroke="#FF2600" stroke-width="6" stroke-linecap="round"/>
<circle cx="1425.8" cy="1725" r="6.2" fill="#FF2600"/>
<path d="M1627.6 1623.5V1654.6" fill="none" stroke="#FF2600" stroke-width="5.2"/>
<path d="M1620.6 1623.5H1634.6M1620.6 1654.6H1634.6" fill="none" stroke="#FF2600" stroke-width="6" stroke-linecap="round"/>
<circle cx="1627.6" cy="1638" r="6.2" fill="#FF2600"/>
<polyline points="1020.9,1975.8 1223.6,1906 1425.8,1804.7 1627.6,1716.4" fill="none" stroke="#2CC800" stroke-width="5" stroke-linecap="round" stroke-linejoin="round"/>
<path d="M1020.9 1968.4V1985.5" fill="none" stroke="#2CC800" stroke-width="5.2"/>
<path d="M1013.9 1968.4H1027.9M1013.9 1985.5H1027.9" fill="none" stroke="#2CC800" stroke-width="6" stroke-linecap="round"/>
<circle cx="1020.9" cy="1975.8" r="6.2" fill="#2CC800"/>
<path d="M1223.6 1899.3V1913" fill="none" stroke="#2CC800" stroke-width="5.2"/>
<path d="M1216.6 1899.3H1230.6M1216.6 1913H1230.6" fill="none" stroke="#2CC800" stroke-width="6" stroke-linecap="round"/>
<circle cx="1223.6" cy="1906" r="6.2" fill="#2CC800"/>
<path d="M1425.8 1793V1818" fill="none" stroke="#2CC800" stroke-width="5.2"/>
<path d="M1418.8 1793H1432.8M1418.8 1818H1432.8" fill="none" stroke="#2CC800" stroke-width="6" stroke-linecap="round"/>
<circle cx="1425.8" cy="1804.7" r="6.2" fill="#2CC800"/>
<path d="M1627.6 1699.3V1731.8" fill="none" stroke="#2CC800" stroke-width="5.2"/>
<path d="M1620.6 1699.3H1634.6M1620.6 1731.8H1634.6" fill="none" stroke="#2CC800" stroke-width="6" stroke-linecap="round"/>
<circle cx="1627.6" cy="1716.4" r="6.2" fill="#2CC800"/>
<polyline points="1020.9,1955.5 1223.6,1878.8 1425.8,1770.5 1627.6,1687.8" fill="none" stroke="#0433FF" stroke-width="5" stroke-linecap="round" stroke-linejoin="round"/>
<path d="M1020.9 1938V1973.3" fill="none" stroke="#0433FF" stroke-width="5.2"/>
<path d="M1013.9 1938H1027.9M1013.9 1973.3H1027.9" fill="none" stroke="#0433FF" stroke-width="6" stroke-linecap="round"/>
<circle cx="1020.9" cy="1955.5" r="6.2" fill="#0433FF"/>
<path d="M1223.6 1848V1908.6" fill="none" stroke="#0433FF" stroke-width="5.2"/>
<path d="M1216.6 1848H1230.6M1216.6 1908.6H1230.6" fill="none" stroke="#0433FF" stroke-width="6" stroke-linecap="round"/>
<circle cx="1223.6" cy="1878.8" r="6.2" fill="#0433FF"/>
<path d="M1425.8 1747.3V1792.5" fill="none" stroke="#0433FF" stroke-width="5.2"/>
<path d="M1418.8 1747.3H1432.8M1418.8 1792.5H1432.8" fill="none" stroke="#0433FF" stroke-width="6" stroke-linecap="round"/>
<circle cx="1425.8" cy="1770.5" r="6.2" fill="#0433FF"/>
<path d="M1627.6 1667.5V1708.3" fill="none" stroke="#0433FF" stroke-width="5.2"/>
<path d="M1620.6 1667.5H1634.6M1620.6 1708.3H1634.6" fill="none" stroke="#0433FF" stroke-width="6" stroke-linecap="round"/>
<circle cx="1627.6" cy="1687.8" r="6.2" fill="#0433FF"/>
<text x="1422.3" y="1691.2" font-size="55" font-weight="bold" text-anchor="middle">*</text>
<text x="1627.7" y="1604.6" font-size="55" font-weight="bold" text-anchor="middle">*</text>
<line x1="1473" y1="1880.5" x2="1493" y2="1880.5" stroke="#0433FF" stroke-width="4.4" stroke-linecap="round"/>
<circle cx="1483" cy="1880.5" r="5.8" fill="#0433FF"/>
<text transform="translate(1502.3 1888.6) scale(1 1)" font-size="25.2" stroke="#000" stroke-width="0.3">Vehicle</text>
<line x1="1473" y1="1916.4" x2="1493" y2="1916.4" stroke="#FF2600" stroke-width="4.4" stroke-linecap="round"/>
<circle cx="1483" cy="1916.4" r="5.8" fill="#FF2600"/>
<text transform="translate(1502.3 1924.6) scale(1 1)" font-size="25.2" stroke="#000" stroke-width="0.3">gp120 X4</text>
<line x1="1473" y1="1956.2" x2="1493" y2="1956.2" stroke="#2CC800" stroke-width="4.4" stroke-linecap="round"/>
<circle cx="1483" cy="1956.2" r="5.8" fill="#2CC800"/>
<text transform="translate(1502.3 1964.4) scale(1 1)" font-size="25.2" stroke="#000" stroke-width="0.3">gp120 X4 + ZIL</text>
</g>
</g></svg>
</body></html>
